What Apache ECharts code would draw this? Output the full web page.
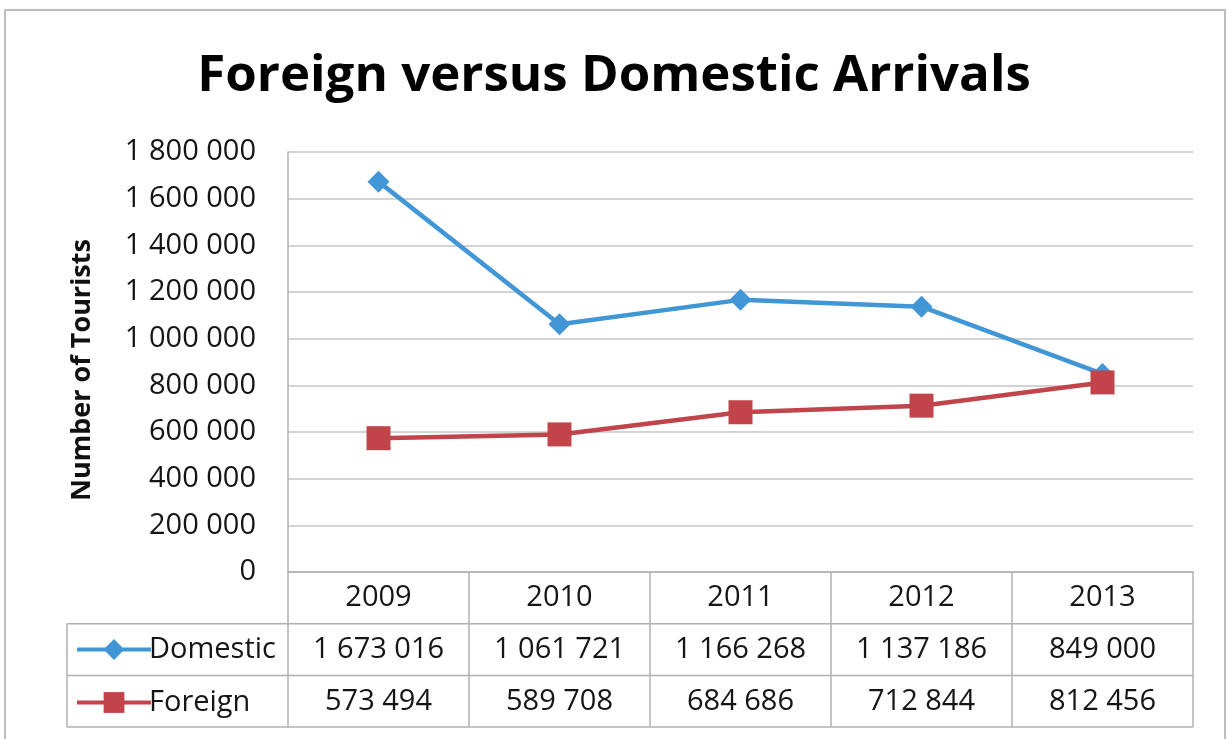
<!DOCTYPE html>
<html>
<head>
<meta charset="utf-8">
<script src="https://cdn.jsdelivr.net/npm/echarts@6/dist/echarts.min.js"></script>
<style>
  html, body { margin: 0; padding: 0; background: #fff; }
  #chart { width: 1228px; height: 739px; }
</style>
</head>
<body>
<div id="chart"></div>
<script>
// Annual tourist arrivals
const years = ['2009', '2010', '2011', '2012', '2013'];
const domestic = [1673016, 1061721, 1166268, 1137186, 849000];
const foreign = [573494, 589708, 684686, 712844, 812456];
const seriesNames = ['Domestic', 'Foreign'];

const BLUE = '#4196d6';
const RED = '#c0444a';
const GRID_LINE = '#c4c4c4';
const TABLE_LINE = '#b0b0b0';
const TEXT = '#151515';
const FONT = '"Open Sans", Lato, sans-serif';
const ROW_H = 51.7;   // height of one data-table row

// thousands separated by spaces: 1673016 -> "1 673 016"
const fmt = n => String(n).replace(/\B(?=(\d{3})+(?!\d))/g, ' ');

const chart = echarts.init(document.getElementById('chart'), null, { renderer: 'canvas' });

const option = {
  backgroundColor: '#fff',
  animation: false,
  title: {
    text: 'Foreign versus Domestic Arrivals',
    left: 'center',
    top: 46,
    textStyle: { fontFamily: FONT, fontSize: 51, fontWeight: 'bold', color: '#000' }
  },
  legend: {
    data: seriesNames,
    orient: 'vertical',
    left: 75,
    top: 635,
    padding: 0,
    itemGap: 24,
    itemWidth: 74,
    itemHeight: 26,
    lineStyle: { width: 4 },
    textStyle: { fontFamily: FONT, fontSize: 29, color: TEXT, padding: [0, 0, 0, -7] }
  },
  grid: { left: 288, right: 35, top: 152, bottom: 167, containLabel: false },
  xAxis: {
    type: 'category',
    data: years,
    boundaryGap: true,
    axisLine: { show: true, lineStyle: { color: TABLE_LINE, width: 1.5 } },
    axisTick: { show: false },
    splitLine: { show: false },
    axisLabel: {
      margin: 0,
      interval: 0,
      formatter: (v, i) => `{c|${v}}\n{c|${fmt(domestic[i])}}\n{c|${fmt(foreign[i])}}`,
      rich: {
        c: { fontFamily: FONT, fontSize: 29, color: TEXT, lineHeight: ROW_H, align: 'center' }
      }
    }
  },
  yAxis: {
    type: 'value',
    min: 0,
    max: 1800000,
    interval: 200000,
    name: 'Number of Tourists',
    nameLocation: 'middle',
    nameGap: 192,
    nameTextStyle: { fontFamily: FONT, fontSize: 27, fontWeight: 'bold', color: '#111', padding: [0, 16, 0, 0] },
    axisLine: { show: true, lineStyle: { color: TABLE_LINE, width: 1.5 } },
    axisTick: { show: false },
    splitLine: { show: true, lineStyle: { color: GRID_LINE, width: 1.5 } },
    axisLabel: {
      margin: 32,
      fontFamily: FONT,
      fontSize: 29,
      color: TEXT,
      formatter: v => fmt(v)
    }
  },
  series: [
    {
      name: seriesNames[0],
      type: 'line',
      data: domestic,
      symbol: 'diamond',
      symbolSize: 22,
      lineStyle: { color: BLUE, width: 4.5 },
      itemStyle: { color: BLUE },
      z: 2
    },
    {
      name: seriesNames[1],
      type: 'line',
      data: foreign,
      symbol: 'rect',
      symbolSize: 24,
      lineStyle: { color: RED, width: 4.5 },
      itemStyle: { color: RED },
      z: 3
    }
  ]
};

chart.setOption(option);

// Data-table rules and the outer chart frame, placed from the axes' own scale
function drawTable() {
  const c0 = chart.convertToPixel({ xAxisIndex: 0 }, years[0]);
  const c1 = chart.convertToPixel({ xAxisIndex: 0 }, years[1]);
  const band = c1 - c0;
  const y0 = chart.convertToPixel({ yAxisIndex: 0 }, 0);
  const tableLeft = 67;
  const bounds = [];
  for (let k = 0; k <= years.length; k++) bounds.push(c0 - band / 2 + k * band);
  const xR = bounds[bounds.length - 1];
  const y1 = y0 + ROW_H, y2 = y0 + 2 * ROW_H, y3 = y0 + 3 * ROW_H;

  const ls = { stroke: TABLE_LINE, lineWidth: 1.5 };
  const els = [];
  [y1, y2, y3].forEach(y => els.push({ type: 'line', shape: { x1: tableLeft, y1: y, x2: xR, y2: y }, style: ls, silent: true }));
  els.push({ type: 'line', shape: { x1: tableLeft, y1: y1, x2: tableLeft, y2: y3 }, style: ls, silent: true });
  bounds.forEach(x => els.push({ type: 'line', shape: { x1: x, y1: y0, x2: x, y2: y3 }, style: ls, silent: true }));
  els.push({
    type: 'rect',
    shape: { x: 5, y: 10, width: 1220, height: 760 },
    style: { fill: null, stroke: '#bdbdbd', lineWidth: 2 },
    silent: true,
    z: -1
  });
  chart.setOption({ graphic: { elements: els } });
}
drawTable();
</script>
</body>
</html>
